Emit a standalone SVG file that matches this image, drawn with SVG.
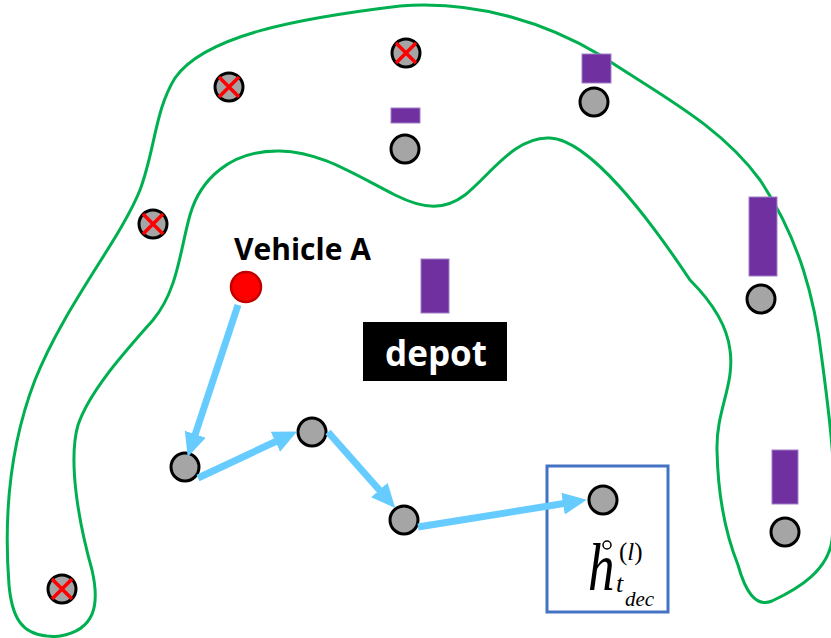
<svg xmlns="http://www.w3.org/2000/svg" width="831" height="638" viewBox="0 0 831 638">
<style>
.node{fill:#A5A5A5;stroke:#000;stroke-width:3}
.x{stroke:#FF0000;stroke-width:3.5}
.dem{fill:#7030A0;stroke:#A080C8;stroke-width:1}
.region{fill:none;stroke:#00B050;stroke-width:3}
.arrow{stroke:#66CCFF;stroke-width:7;fill:none;marker-end:url(#ah)}
.math{font-family:"Liberation Serif","Times New Roman",serif;font-style:italic;fill:#000}
</style>
<defs>
<marker id="ah" markerUnits="userSpaceOnUse" markerWidth="26" markerHeight="24" refX="4" refY="11" orient="auto" viewBox="0 0 26 24">
<path d="M0,0 L24,11 L0,22 Z" fill="#66CCFF"/>
</marker>
</defs>
<rect width="831" height="638" fill="#fff"/>
<path class="region" d="M47,636 C22,634 12,618 9,585 C4,520 8,450 35,380 C65,305 120,240 140,190 C155,150 155,110 175,78 C205,35 300,18 400,6 C480,0 550,25 600,55 C660,95 720,125 760,180 C800,240 815,300 822,360 C830,420 838,480 832,540 C828,570 800,588 772,601 C755,608 745,590 738,565 C728,540 718,500 717,450 C716,410 735,385 730,350 C727,325 710,300 690,280 C650,220 590,140 550,138 C515,136 490,175 465,195 C445,210 425,210 395,195 C350,172 320,152 280,151 C230,150 200,180 190,215 C180,250 178,290 153,320 C125,352 90,390 78,425 C68,460 78,520 92,570 C100,605 95,630 60,636 C55,637 50,636 47,636 Z"/>
<g id="cust1"><circle class="node" cx="229" cy="87" r="14"/><path class="x" d="M219,77 L239,97 M239,77 L219,97"/></g>
<g id="cust2"><circle class="node" cx="406" cy="53" r="14"/><path class="x" d="M396,43 L416,63 M416,43 L396,63"/></g>
<g id="cust3"><circle class="node" cx="153" cy="224" r="14"/><path class="x" d="M143,214 L163,234 M163,214 L143,234"/></g>
<g id="cust4"><circle class="node" cx="62" cy="589" r="14"/><path class="x" d="M52,579 L72,599 M72,579 L52,599"/></g>
<g id="cust5"><rect class="dem" x="391" y="108" width="29" height="15"/><circle class="node" cx="405" cy="149" r="14"/></g>
<g id="cust6"><rect class="dem" x="582" y="54" width="29" height="29"/><circle class="node" cx="594" cy="102" r="14"/></g>
<g id="cust7"><rect class="dem" x="749" y="197" width="28" height="79"/><circle class="node" cx="761" cy="299" r="14"/></g>
<g id="cust8"><rect class="dem" x="772" y="450" width="26" height="54"/><circle class="node" cx="785" cy="532" r="14"/></g>
<g id="depot"><rect class="dem" x="421" y="259" width="28" height="54"/><rect x="363" y="322" width="144" height="59" fill="#000"/><text x="436" y="366" text-anchor="middle" font-family="'Open Sans','Liberation Sans',sans-serif" font-weight="bold" font-size="35" fill="#fff">depot</text></g>
<g id="vehicleA"><text x="234" y="260" font-family="'Open Sans','Liberation Sans',sans-serif" font-weight="bold" font-size="30" fill="#000">Vehicle A</text><circle cx="246" cy="287" r="15" fill="#FF0000" stroke="#C00000" stroke-width="2.5"/></g>
<g id="p1"><circle class="node" cx="185" cy="467" r="14"/></g>
<g id="p2"><circle class="node" cx="312" cy="432" r="14"/></g>
<g id="p3"><circle class="node" cx="404" cy="520" r="14"/></g>
<g id="target"><rect x="547" y="466" width="121" height="146" fill="none" stroke="#4472C4" stroke-width="3"/><circle class="node" cx="603" cy="500" r="14"/>
<text class="math" transform="translate(588,590) scale(0.78,1)" font-size="68">h</text>
<circle cx="607" cy="545" r="4" fill="none" stroke="#000" stroke-width="1.5"/>
<text class="math" x="619" y="560" font-size="25"><tspan font-style="normal">(</tspan>l<tspan font-style="normal">)</tspan></text>
<text class="math" x="616" y="592" font-size="26">t</text>
<text class="math" x="625" y="606" font-size="21">dec</text>
</g>
<g id="connectors">
<line class="arrow" x1="238" y1="305" x2="194" y2="438"/>
<line class="arrow" x1="198" y1="478" x2="279" y2="440"/>
<line class="arrow" x1="328" y1="432" x2="382" y2="493"/>
<line class="arrow" x1="418" y1="527" x2="567" y2="503"/>
</g>
</svg>
